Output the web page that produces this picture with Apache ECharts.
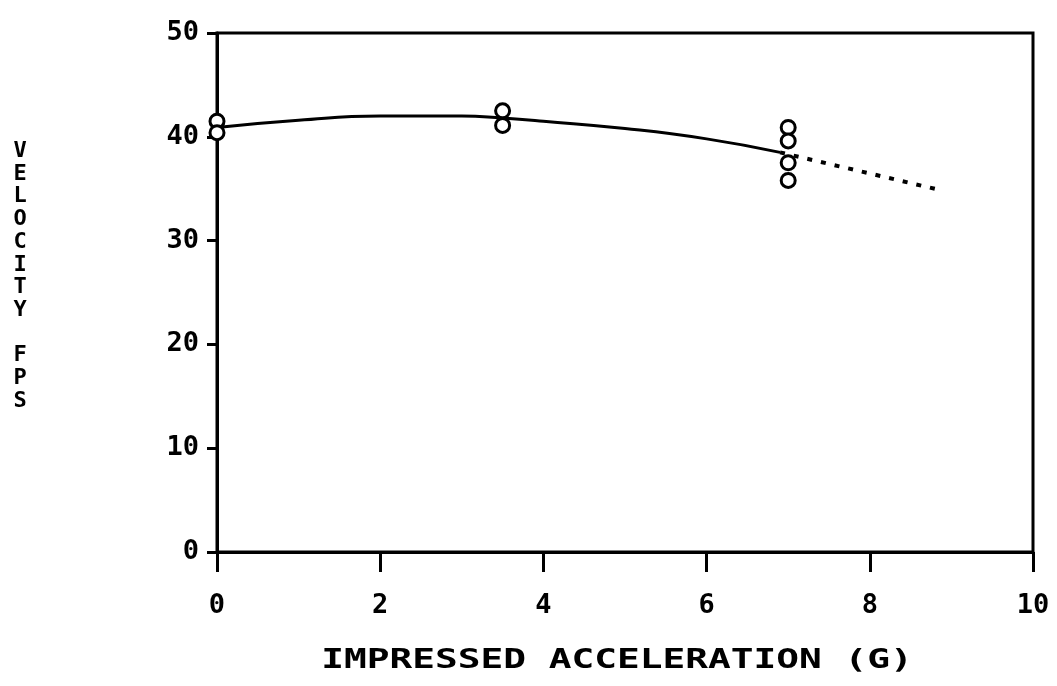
<!DOCTYPE html>
<html><head><meta charset="utf-8">
<script src="https://cdn.jsdelivr.net/npm/echarts@6/dist/echarts.min.js"></script>
<style>html,body{margin:0;padding:0;background:#fff}#c{width:1057px;height:686px}</style>
</head><body><div id="c"></div>
<script>
var xTicks = [0, 2, 4, 6, 8, 10];
var yTicks = [0, 10, 20, 30, 40, 50];
var pointsX = [0, 0, 3.5, 3.5, 7, 7, 7, 7];
var pointsY = [41.5, 40.4, 42.5, 41.1, 40.9, 39.6, 37.5, 35.8];
var fitX = [0, 1, 2, 3, 3.5, 4, 5, 6, 6.9];
var fitY = [40.9, 41.6, 42.0, 42.0, 41.8, 41.5, 40.8, 39.8, 38.5];
var extX = [6.9, 8.9];
var extY = [38.5, 34.8];
var xTitle = 'IMPRESSED ACCELERATION (G)';
var yTitle = ['V','E','L','O','C','I','T','Y','','F','P','S'];

var font = '"DejaVu Sans Mono", monospace';
var chart = echarts.init(document.getElementById('c'));
function zip(a, b) { return a.map(function (v, i) { return [v, b[i]]; }); }
chart.setOption({
  animation: false,
  backgroundColor: '#fff',
  grid: { left: 217, right: 24, top: 33, bottom: 134, show: true, borderColor: '#000', borderWidth: 3 },
  xAxis: {
    type: 'value', min: xTicks[0], max: xTicks[xTicks.length - 1], interval: 2,
    axisLine: { lineStyle: { color: '#000', width: 3 } },
    axisTick: { show: true, length: 20, lineStyle: { color: '#000', width: 3 } },
    splitLine: { show: false },
    axisLabel: { color: '#000', fontFamily: font, fontWeight: 'bold', fontSize: 27, margin: 40 }
  },
  yAxis: {
    type: 'value', min: yTicks[0], max: yTicks[yTicks.length - 1], interval: 10,
    axisLine: { lineStyle: { color: '#000', width: 3 } },
    axisTick: { show: true, length: 10, lineStyle: { color: '#000', width: 3 } },
    splitLine: { show: false },
    axisLabel: { color: '#000', fontFamily: font, fontWeight: 'bold', fontSize: 27, margin: 18 }
  },
  graphic: [{
    type: 'text', x: 20, y: 140,
    style: { text: yTitle.join('\n'), fill: '#000', font: 'bold 22px ' + font, lineHeight: 22.7, align: 'center' }
  }, {
    type: 'text', x: 617, y: 661, scaleX: 1.4,
    style: { text: xTitle, fill: '#000', font: 'bold 27px ' + font, align: 'center', verticalAlign: 'middle' }
  }],
  series: [
    { type: 'line', data: zip(fitX, fitY), smooth: true, symbol: 'none',
      lineStyle: { color: '#000', width: 3 } },
    { type: 'line', data: zip(extX, extY), symbol: 'none',
      lineStyle: { color: '#000', width: 4, type: [5, 9] } },
    { type: 'scatter', data: zip(pointsX, pointsY), symbol: 'circle', symbolSize: 14,
      itemStyle: { color: '#fff', borderColor: '#000', borderWidth: 3, opacity: 1 }, z: 5 }
  ]
});
</script></body></html>
